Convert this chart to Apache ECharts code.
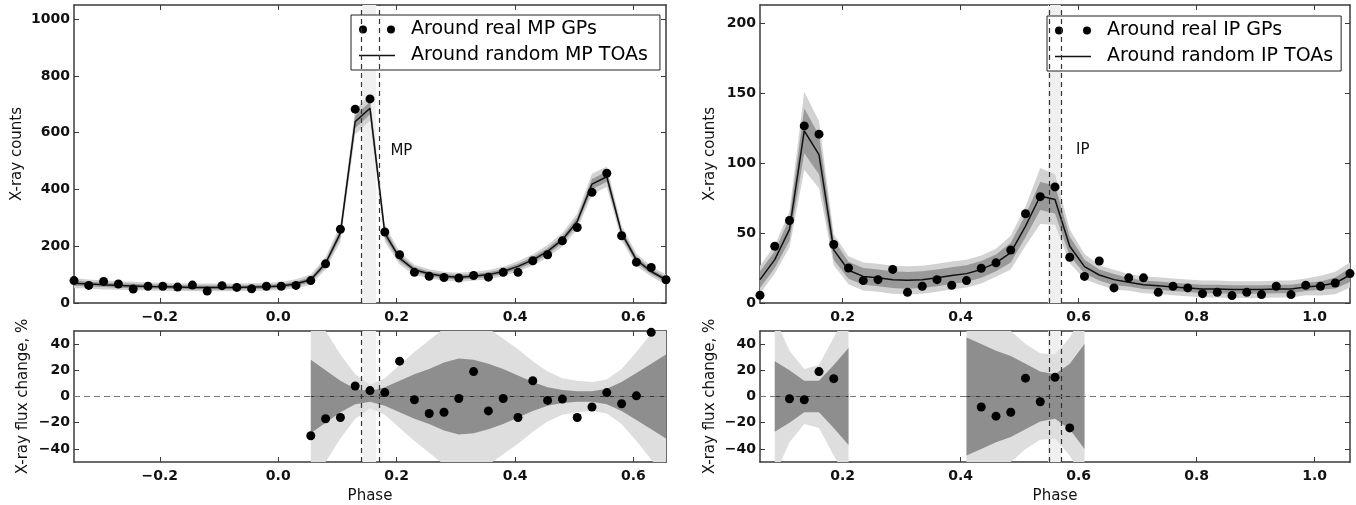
<!DOCTYPE html>
<html>
<head>
<meta charset="utf-8">
<title>X-ray counts around giant pulses</title>
<script src="https://cdn.jsdelivr.net/npm/echarts@6/dist/echarts.min.js"></script>
<style>
  html, body { margin: 0; padding: 0; background: #fff; }
  #chart { width: 1356px; height: 505px; }
</style>
</head>
<body>
<div id="chart"></div>
<script>
// ---- main pulse (MP), top-left ----
const mpPhase = [-0.345, -0.32, -0.295, -0.27, -0.245, -0.22, -0.195, -0.17, -0.145, -0.12,
  -0.095, -0.07, -0.045, -0.02, 0.005, 0.03, 0.055, 0.08, 0.105, 0.13,
  0.155, 0.18, 0.205, 0.23, 0.255, 0.28, 0.305, 0.33, 0.355, 0.38,
  0.405, 0.43, 0.455, 0.48, 0.505, 0.53, 0.555, 0.58, 0.605, 0.63, 0.655]
const mpReal = [79, 62, 76, 67, 49, 59, 59, 56, 63, 42,
  61, 55, 50, 59, 59, 62, 79, 138, 260, 683,
  719, 250, 170, 108, 94, 90, 88, 97, 91, 108,
  108, 149, 170, 219, 266, 390, 457, 237, 144, 125, 82]
const mpRandom = [70, 67, 64, 62, 60, 58, 57, 56, 55, 55,
  55, 55, 56, 57, 60, 68, 82, 140, 246, 639,
  686, 246, 158, 117, 103, 94, 91, 94, 100, 111,
  129, 152, 182, 223, 287, 419, 445, 246, 152, 111, 82]
const mpInner = [9, 8, 8, 8, 8, 7, 7, 7, 7, 7,
  7, 7, 7, 7, 7, 8, 9, 11, 15, 22,
  22, 15, 11, 9, 8, 8, 8, 8, 8, 9,
  9, 10, 11, 12, 14, 18, 18, 13, 11, 9, 9]
const mpOuter = [18, 16, 16, 15, 15, 14, 14, 14, 14, 14,
  14, 14, 14, 14, 14, 16, 18, 22, 30, 44,
  44, 30, 22, 18, 16, 16, 16, 16, 16, 17,
  18, 20, 22, 24, 28, 36, 36, 26, 22, 18, 18]
const mpWindow = [0.142, 0.165]

// ---- interpulse (IP), top-right ----
const ipPhase = [0.06, 0.085, 0.11, 0.135, 0.16, 0.185, 0.21, 0.235, 0.26, 0.285,
  0.31, 0.335, 0.36, 0.385, 0.41, 0.435, 0.46, 0.485, 0.51, 0.535,
  0.56, 0.585, 0.61, 0.635, 0.66, 0.685, 0.71, 0.735, 0.76, 0.785,
  0.81, 0.835, 0.86, 0.885, 0.91, 0.935, 0.96, 0.985, 1.01, 1.035, 1.06]
const ipReal = [5.5, 40.6, 59, 126.6, 120.7, 41.8, 25, 16, 16.7, 24,
  7.6, 12, 16.7, 12.7, 16, 24.8, 28.7, 37.8, 63.8, 76,
  83, 32.7, 19, 30, 10.8, 18, 18, 7.6, 12, 10.8,
  6.7, 7.6, 5.3, 7.6, 6, 12, 6, 12.7, 12, 14.3, 21]
const ipRandom = [16.7, 31, 52.6, 123, 106, 38, 23.4, 19, 18, 16.7,
  16.2, 16.7, 18, 19.6, 21, 24, 28.7, 36, 55, 76.5,
  74, 40.6, 26, 20, 16.7, 14.8, 13, 12.4, 11.5, 10.8,
  10, 10, 9.6, 9.6, 9.6, 10, 10, 11.5, 12.4, 14.3, 20]
const ipInner = [6, 6, 8, 16, 14, 7, 6, 6, 6, 6,
  6, 6, 6, 6, 6, 6, 6, 7, 8, 10,
  10, 7, 5, 4, 4, 3, 3, 3, 3, 3,
  3, 3, 3, 3, 3, 3, 3, 3, 3, 4, 5]
const ipOuter = [10, 10, 13, 28, 24, 11, 10, 10, 10, 10,
  10, 10, 10, 10, 10, 10, 10, 12, 14, 20,
  18, 12, 9, 7, 7, 6, 6, 6, 6, 6,
  6, 6, 6, 6, 6, 6, 6, 6, 7, 8, 9]
const ipWindow = [0.548, 0.57]

// ---- flux change (%), bottom panels ----
const mpBandPhase = [0.055, 0.08, 0.105, 0.13, 0.155, 0.18, 0.205, 0.23, 0.255, 0.28,
  0.305, 0.33, 0.355, 0.38, 0.405, 0.43, 0.455, 0.48, 0.505, 0.53,
  0.555, 0.58, 0.605, 0.63, 0.655]
const mpDevInner = [28, 20, 12, 6, 4, 7, 12, 17, 21, 26,
  29, 28, 25, 21, 16, 11, 7, 5, 4, 4,
  6, 11, 18, 25, 32]
const mpDevOuter = [75, 50, 32, 17, 9, 14, 24, 34, 43, 52,
  58, 57, 52, 44, 36, 27, 19, 14, 12, 11,
  13, 21, 34, 48, 62]
const mpDevPhase = [0.055, 0.08, 0.105, 0.13, 0.155, 0.18, 0.205, 0.23, 0.255, 0.28,
  0.305, 0.33, 0.355, 0.38, 0.405, 0.43, 0.455, 0.48, 0.505, 0.53,
  0.555, 0.58, 0.605, 0.63]
const mpDev = [-30, -17, -16, 8, 4.5, 3, 27, -2.5, -13, -12,
  -1.5, 19, -11, -1.5, -16, 12, -3, -2, -16, -8,
  3, -5.5, 0.5, 49]

const ipBand1Phase = [0.085, 0.11, 0.135, 0.16, 0.185, 0.21]
const ipBand1Inner = [27, 20, 12, 12, 24, 37]
const ipBand1Outer = [60, 35, 21, 24, 45, 65]
const ipBand2Phase = [0.41, 0.435, 0.46, 0.485, 0.51, 0.535, 0.56, 0.585, 0.61]
const ipBand2Inner = [45, 40, 35, 31, 25, 19, 17, 25, 40]
const ipBand2Outer = [80, 70, 60, 50, 40, 33, 32, 45, 65]
const ipDevPhase = [0.11, 0.135, 0.16, 0.185, 0.435, 0.46, 0.485, 0.51, 0.535, 0.56, 0.585]
const ipDev = [-1.7, -2.5, 19, 13.6, -8, -15, -12, 14, -4, 14.6, -24]

// tick labels
const mpTicksX = [-0.2, 0.0, 0.2, 0.4, 0.6]
const ipTicksX = [0.2, 0.4, 0.6, 0.8, 1.0]
const mpTicksY = [0, 200, 400, 600, 800, 1000]
const ipTicksY = [0, 50, 100, 150, 200]
const devTicksY = [-40, -20, 0, 20, 40]

const FONT = 'DejaVu Sans'
const AXIS_COLOR = '#3a3a3a'
const DOTS = 'path://M4,0A4,4,0,1,1,4,8A4,4,0,1,1,4,0ZM32,0A4,4,0,1,1,32,8A4,4,0,1,1,32,0Z'
const LINE = 'path://M0,0H36V1.6H0Z'

function minusSign(s) {
  return s.replace('-', '\u2212')
}
function fmtPhase(v) {
  return minusSign(v.toFixed(1))
}
function fmtInt(v) {
  return minusSign(String(Math.round(v)))
}

const tickText = { color: '#111', fontSize: 14, fontWeight: 'bold', fontFamily: FONT }
const nameText = { color: '#111', fontSize: 15, fontFamily: FONT }

function xAxes(gridIndex, min, max, ticks, name) {
  const base = {
    type: 'value',
    gridIndex,
    min,
    max,
    splitLine: { show: false },
    axisLine: { show: true, onZero: false, lineStyle: { color: AXIS_COLOR, width: 1.5 } },
    axisTick: { show: true, inside: true, length: 5, customValues: ticks, lineStyle: { color: AXIS_COLOR } },
  }
  return [
    {
      ...base,
      position: 'bottom',
      axisLabel: { customValues: ticks, formatter: fmtPhase, margin: 7, ...tickText },
      name: name || '',
      nameLocation: 'middle',
      nameGap: 27,
      nameTextStyle: nameText,
    },
    { ...base, position: 'top', axisLabel: { show: false } },
  ]
}

function yAxes(gridIndex, min, max, ticks, name, gap) {
  const base = {
    type: 'value',
    gridIndex,
    min,
    max,
    splitLine: { show: false },
    axisLine: { show: true, onZero: false, lineStyle: { color: AXIS_COLOR, width: 1.5 } },
    axisTick: { show: true, inside: true, length: 5, customValues: ticks, lineStyle: { color: AXIS_COLOR } },
  }
  return [
    {
      ...base,
      position: 'left',
      axisLabel: { customValues: ticks, formatter: fmtInt, margin: 4, ...tickText },
      name,
      nameLocation: 'middle',
      nameGap: gap,
      nameTextStyle: nameText,
    },
    { ...base, position: 'right', axisLabel: { show: false } },
  ]
}

// shaded band (center +- half width) drawn as one polygon through the axis scales
function band(g, xs, center, hw, color, z) {
  const lo = xs.map((x, i) => center[i] - hw[i])
  const hi = xs.map((x, i) => center[i] + hw[i])
  return {
    type: 'custom',
    xAxisIndex: 2 * g,
    yAxisIndex: 2 * g,
    silent: true,
    clip: true,
    z,
    data: xs.map((x, i) => [x, lo[i], hi[i]]),
    encode: { x: 0, y: [1, 2] },
    renderItem: function (params, api) {
      if (params.dataIndex !== 0) return null
      const upper = xs.map((x, i) => api.coord([x, hi[i]]))
      const lower = xs.map((x, i) => api.coord([x, lo[i]])).reverse()
      return {
        type: 'polygon',
        shape: { points: upper.concat(lower) },
        style: { fill: color },
      }
    },
  }
}

function pairs(xs, ys) {
  return xs.map((x, i) => [x, ys[i]])
}

function windowMarks(win) {
  return {
    markArea: {
      silent: true,
      itemStyle: { color: '#f0f0f0' },
      data: [[{ xAxis: win[0] }, { xAxis: win[1] }]],
    },
    markLine: {
      silent: true,
      symbol: 'none',
      label: { show: false },
      lineStyle: { type: [5, 4], color: '#333', width: 1.2 },
      data: win.map((x) => ({ xAxis: x })),
    },
  }
}

function textMark(text, coord) {
  return {
    silent: true,
    symbol: 'circle',
    symbolSize: 1,
    itemStyle: { color: 'transparent' },
    label: { show: true, position: 'inside', formatter: text, color: '#111', fontSize: 15, fontFamily: FONT },
    data: [{ coord }],
  }
}

function zeroSeries(g, xs, extra) {
  return {
    type: 'line',
    xAxisIndex: 2 * g,
    yAxisIndex: 2 * g,
    data: xs.map((x) => [x, 0]),
    symbol: 'none',
    silent: true,
    z: 4,
    lineStyle: { color: '#333', width: 1 },
    ...extra,
  }
}

const zeroDashStyle = { type: [6, 4], color: '#777', width: 1.2 }

const TOP_OUTER = '#d2d2d2'
const TOP_INNER = '#999999'
const BOT_OUTER = '#dedede'
const BOT_INNER = '#8e8e8e'
const dotStyle = { color: '#000', opacity: 1 }

const mpZero = zeroSeries(2, mpBandPhase, windowMarks(mpWindow))
mpZero.markLine.data.push({ yAxis: 0, lineStyle: zeroDashStyle })
const ipZero = zeroSeries(3, ipBand2Phase, windowMarks(ipWindow))
ipZero.markLine.data.push({ yAxis: 0, lineStyle: zeroDashStyle })

const series = [
  // top-left
  band(0, mpPhase, mpRandom, mpOuter, TOP_OUTER, 2),
  band(0, mpPhase, mpRandom, mpInner, TOP_INNER, 3),
  {
    name: 'Around random MP TOAs',
    type: 'line',
    xAxisIndex: 0,
    yAxisIndex: 0,
    data: pairs(mpPhase, mpRandom),
    symbol: 'none',
    z: 4,
    itemStyle: { color: '#111' },
    lineStyle: { color: '#111', width: 1.5 },
    ...windowMarks(mpWindow),
    markPoint: textMark('MP', [0.208, 535]),
  },
  {
    name: 'Around real MP GPs',
    type: 'scatter',
    xAxisIndex: 0,
    yAxisIndex: 0,
    data: pairs(mpPhase, mpReal),
    symbolSize: 9,
    z: 6,
    itemStyle: dotStyle,
  },
  // top-right
  band(1, ipPhase, ipRandom, ipOuter, TOP_OUTER, 2),
  band(1, ipPhase, ipRandom, ipInner, TOP_INNER, 3),
  {
    name: 'Around random IP TOAs',
    type: 'line',
    xAxisIndex: 2,
    yAxisIndex: 2,
    data: pairs(ipPhase, ipRandom),
    symbol: 'none',
    z: 4,
    itemStyle: { color: '#111' },
    lineStyle: { color: '#111', width: 1.5 },
    ...windowMarks(ipWindow),
    markPoint: textMark('IP', [0.607, 109]),
  },
  {
    name: 'Around real IP GPs',
    type: 'scatter',
    xAxisIndex: 2,
    yAxisIndex: 2,
    data: pairs(ipPhase, ipReal),
    symbolSize: 9,
    z: 6,
    itemStyle: dotStyle,
  },
  // bottom-left
  band(2, mpBandPhase, mpBandPhase.map(() => 0), mpDevOuter, BOT_OUTER, 2),
  band(2, mpBandPhase, mpBandPhase.map(() => 0), mpDevInner, BOT_INNER, 3),
  mpZero,
  {
    type: 'scatter',
    xAxisIndex: 4,
    yAxisIndex: 4,
    data: pairs(mpDevPhase, mpDev),
    symbolSize: 9,
    z: 6,
    itemStyle: dotStyle,
  },
  // bottom-right
  band(3, ipBand1Phase, ipBand1Phase.map(() => 0), ipBand1Outer, BOT_OUTER, 2),
  band(3, ipBand1Phase, ipBand1Phase.map(() => 0), ipBand1Inner, BOT_INNER, 3),
  band(3, ipBand2Phase, ipBand2Phase.map(() => 0), ipBand2Outer, BOT_OUTER, 2),
  band(3, ipBand2Phase, ipBand2Phase.map(() => 0), ipBand2Inner, BOT_INNER, 3),
  zeroSeries(3, ipBand1Phase),
  ipZero,
  {
    type: 'scatter',
    xAxisIndex: 6,
    yAxisIndex: 6,
    data: pairs(ipDevPhase, ipDev),
    symbolSize: 9,
    z: 6,
    itemStyle: dotStyle,
  },
]

function legendFor(left, top, padRight, dotsName, lineName) {
  return {
    left,
    top,
    orient: 'vertical',
    selectedMode: false,
    backgroundColor: '#fff',
    borderColor: '#222',
    borderWidth: 1,
    borderRadius: 0,
    padding: [5, padRight, 5, 8],
    itemWidth: 36,
    itemHeight: 8,
    itemGap: 7,
    textStyle: { color: '#000', fontSize: 19, fontFamily: FONT, padding: [0, 0, 0, 11] },
    data: [
      { name: dotsName, icon: DOTS, itemStyle: { color: '#000', opacity: 1 } },
      { name: lineName, icon: LINE },
    ],
  }
}

const option = {
  animation: false,
  backgroundColor: '#fff',
  grid: [
    { left: 74, top: 5, width: 592, height: 298 },
    { left: 760, top: 5, width: 590, height: 298 },
    { left: 74, top: 331, width: 592, height: 135 },
    { left: 760, top: 331, width: 590, height: 135 },
  ],
  xAxis: [
    ...xAxes(0, -0.345, 0.655, mpTicksX),
    ...xAxes(1, 0.06, 1.06, ipTicksX),
    ...xAxes(2, -0.345, 0.655, mpTicksX, 'Phase'),
    ...xAxes(3, 0.06, 1.06, ipTicksX, 'Phase'),
  ],
  yAxis: [
    ...yAxes(0, 0, 1050, mpTicksY, 'X-ray counts', 49),
    ...yAxes(1, 0, 213, ipTicksY, 'X-ray counts', 42),
    ...yAxes(2, -50, 50, devTicksY, 'X-ray flux change, %', 43),
    ...yAxes(3, -50, 50, devTicksY, 'X-ray flux change, %', 42),
  ],
  legend: [
    legendFor(351, 15, 12, 'Around real MP GPs', 'Around random MP TOAs'),
    legendFor(1047, 16, 8, 'Around real IP GPs', 'Around random IP TOAs'),
  ],
  series,
}

var myChart = echarts.init(document.getElementById('chart'))
myChart.setOption(option)
</script>
</body>
</html>
